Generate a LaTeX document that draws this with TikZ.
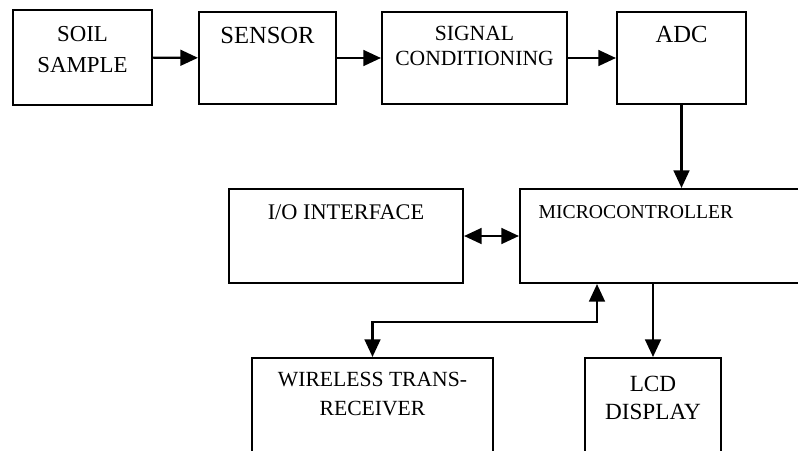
\documentclass[tikz,border=0pt]{standalone}
\usepackage{fontspec}
\setmainfont{Liberation Serif}
\usetikzlibrary{arrows.meta,positioning}

\begin{document}
\begin{tikzpicture}[
        blk/.style={draw, line width=1.2pt, inner sep=0pt},
        lbl/.style={align=center, inner sep=0pt},
        arr/.style={line width=1.2pt, -{Triangle[length=10pt,width=9pt]}},
        arrboth/.style={line width=1.2pt, {Triangle[length=10pt,width=9pt]}-{Triangle[length=10pt,width=9pt]}}
    ]
            \useasboundingbox (0,0) rectangle (15.96,-9);
            \clip (0,0) rectangle (15.96,-9);

            % top row
            \node[blk, minimum width=2.78cm, minimum height=1.9cm] (soil) at (1.65,-1.15) {};
            \node[blk, minimum width=2.74cm, minimum height=1.84cm] (sensor) at (5.35,-1.16) {};
            \node[blk, minimum width=3.70cm, minimum height=1.84cm] (signal) at (9.49,-1.16) {};
            \node[blk, minimum width=2.58cm, minimum height=1.84cm] (adc) at (13.63,-1.16) {};

            % middle row
            \node[blk, minimum width=4.68cm, minimum height=1.88cm] (io) at (6.92,-4.72) {};
            \node[blk, minimum width=6.8cm, minimum height=1.88cm] (micro) at (13.8,-4.72) {};

            % bottom row
            \node[blk, minimum width=4.82cm, minimum height=2.4cm] (wls) at (7.45,-8.36) {};
            \node[blk, minimum width=2.72cm, minimum height=2.4cm] (lcd) at (13.06,-8.36) {};

            % texts
            \node[lbl, font=\fontsize{13}{17.5}\selectfont, below=0.34cm of soil.north] (soiltxt) {SOIL\\SAMPLE};
            \node[lbl, font=\fontsize{14}{16}\selectfont, below=0.32cm of sensor.north] (sensortxt) {SENSOR};
            \node[lbl, font=\fontsize{12.3}{14.2}\selectfont, below=0.30cm of signal.north] (signaltxt) {SIGNAL\\CONDITIONING};
            \node[lbl, font=\fontsize{14}{16}\selectfont, below=0.30cm of adc.north] (adctxt) {ADC};
            \node[lbl, font=\fontsize{12.7}{15}\selectfont, below=0.32cm of io.north] (iotxt) {I/O INTERFACE};
            \node[lbl, font=\fontsize{11.2}{13}\selectfont, anchor=north] (microtxt) at (12.72,-4.1) {MICROCONTROLLER};
            \node[lbl, font=\fontsize{12.3}{16.5}\selectfont, below=0.30cm of wls.north] (wlstxt) {WIRELESS TRANS-\\RECEIVER};
            \node[lbl, font=\fontsize{13.2}{16}\selectfont, below=0.38cm of lcd.north] (lcdtxt) {LCD\\DISPLAY};

            % signal path
            \draw[arr] (soil) -- (sensor);
            \draw[arr] (sensor) -- (signal);
            \draw[arr] (signal) -- (adc);
            \draw[arr] (adc.south) -- (adc.south |- micro.north);

            \draw[arrboth] (io) -- (micro.west |- io.east);
            \draw[arr] (lcd.north |- micro.south) -- (lcd.north);

            \coordinate (tap) at (11.94,-6.44);
            \draw[arrboth] (wls.north) |- (tap) -- (tap |- micro.south);
        \end{tikzpicture}
\end{document}
